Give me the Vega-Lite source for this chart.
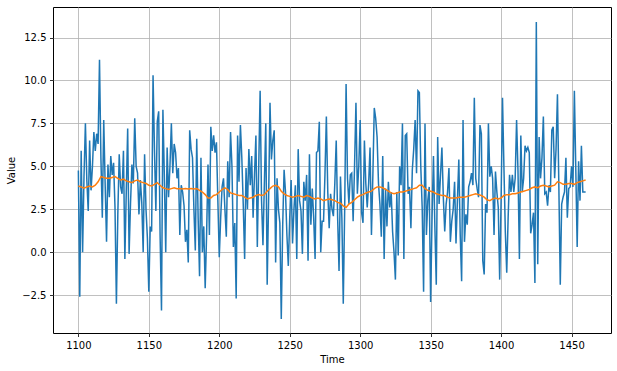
{
  "$schema": "https://vega.github.io/schema/vega-lite/v6.json",
  "width": 558,
  "height": 326,
  "autosize": {"type": "none"},
  "padding": {"left": 53, "top": 7, "right": 6, "bottom": 38},
  "background": "white",
  "config": {
    "view": {"stroke": "#000000", "strokeWidth": 1},
    "axis": {
      "labelFont": "DejaVu Sans", "labelFontSize": 10, "labelColor": "#000000",
      "titleFont": "DejaVu Sans", "titleFontSize": 10, "titleFontWeight": "normal", "titleColor": "#000000",
      "gridColor": "#b0b0b0", "gridWidth": 0.8, "gridOpacity": 1,
      "tickColor": "#000000", "tickSize": 3.5, "tickWidth": 0.8,
      "domain": false, "labelPadding": 3.5
    }
  },
  "datasets": {
    "series": [
      {"t":1100,"v":4.76},{"t":1101,"v":-2.6},{"t":1102,"v":5.9},{"t":1103,"v":0.0},{"t":1104,"v":4.4},{"t":1105,"v":7.5},{"t":1106,"v":4.2},{"t":1107,"v":2.4},{"t":1108,"v":6.5},{"t":1109,"v":3.6},
      {"t":1110,"v":5.0},{"t":1111,"v":7.0},{"t":1112,"v":5.9},{"t":1113,"v":6.9},{"t":1114,"v":6.3},{"t":1115,"v":11.2},{"t":1116,"v":5.5},{"t":1117,"v":2.0},{"t":1118,"v":7.7},{"t":1119,"v":4.0},
      {"t":1120,"v":0.6},{"t":1121,"v":5.1},{"t":1122,"v":3.2},{"t":1123,"v":5.6},{"t":1124,"v":4.5},{"t":1125,"v":5.2},{"t":1126,"v":2.6},{"t":1127,"v":-3.0},{"t":1128,"v":2.2},{"t":1129,"v":5.7},
      {"t":1130,"v":3.8},{"t":1131,"v":3.4},{"t":1132,"v":5.9},{"t":1133,"v":-0.4},{"t":1134,"v":3.5},{"t":1135,"v":7.2},{"t":1136,"v":-0.1},{"t":1137,"v":2.8},{"t":1138,"v":5.1},{"t":1139,"v":4.0},
      {"t":1140,"v":7.8},{"t":1141,"v":5.0},{"t":1142,"v":4.6},{"t":1143,"v":2.2},{"t":1144,"v":4.2},{"t":1145,"v":2.9},{"t":1146,"v":0.0},{"t":1147,"v":5.7},{"t":1148,"v":2.5},{"t":1149,"v":0.8},
      {"t":1150,"v":-2.3},{"t":1151,"v":1.5},{"t":1152,"v":1.2},{"t":1153,"v":10.3},{"t":1154,"v":6.0},{"t":1155,"v":2.4},{"t":1156,"v":7.6},{"t":1157,"v":8.2},{"t":1158,"v":1.0},{"t":1159,"v":-3.4},
      {"t":1160,"v":8.3},{"t":1161,"v":4.5},{"t":1162,"v":0.0},{"t":1163,"v":6.1},{"t":1164,"v":3.2},{"t":1165,"v":5.0},{"t":1166,"v":7.5},{"t":1167,"v":4.6},{"t":1168,"v":6.3},{"t":1169,"v":5.8},
      {"t":1170,"v":4.3},{"t":1171,"v":4.9},{"t":1172,"v":1.0},{"t":1173,"v":3.9},{"t":1174,"v":3.5},{"t":1175,"v":2.7},{"t":1176,"v":0.6},{"t":1177,"v":1.3},{"t":1178,"v":-0.6},{"t":1179,"v":7.1},
      {"t":1180,"v":6.0},{"t":1181,"v":5.5},{"t":1182,"v":2.5},{"t":1183,"v":0.1},{"t":1184,"v":6.6},{"t":1185,"v":2.0},{"t":1186,"v":-1.4},{"t":1187,"v":5.5},{"t":1188,"v":0.0},{"t":1189,"v":1.5},
      {"t":1190,"v":-2.1},{"t":1191,"v":1.0},{"t":1192,"v":5.1},{"t":1193,"v":1.0},{"t":1194,"v":7.3},{"t":1195,"v":5.9},{"t":1196,"v":6.8},{"t":1197,"v":5.8},{"t":1198,"v":6.4},{"t":1199,"v":3.0},
      {"t":1200,"v":-0.3},{"t":1201,"v":2.0},{"t":1202,"v":3.8},{"t":1203,"v":4.3},{"t":1204,"v":2.5},{"t":1205,"v":0.9},{"t":1206,"v":5.3},{"t":1207,"v":3.2},{"t":1208,"v":7.0},{"t":1209,"v":5.0},
      {"t":1210,"v":0.3},{"t":1211,"v":1.7},{"t":1212,"v":-2.7},{"t":1213,"v":6.8},{"t":1214,"v":4.1},{"t":1215,"v":7.4},{"t":1216,"v":5.5},{"t":1217,"v":2.8},{"t":1218,"v":-0.4},{"t":1219,"v":4.9},
      {"t":1220,"v":2.5},{"t":1221,"v":6.0},{"t":1222,"v":3.9},{"t":1223,"v":5.6},{"t":1224,"v":2.0},{"t":1225,"v":4.5},{"t":1226,"v":6.8},{"t":1227,"v":0.3},{"t":1228,"v":5.0},{"t":1229,"v":9.4},
      {"t":1230,"v":3.0},{"t":1231,"v":0.4},{"t":1232,"v":4.0},{"t":1233,"v":7.5},{"t":1234,"v":-1.9},{"t":1235,"v":3.0},{"t":1236,"v":8.7},{"t":1237,"v":5.4},{"t":1238,"v":6.5},{"t":1239,"v":7.1},
      {"t":1240,"v":-0.6},{"t":1241,"v":4.3},{"t":1242,"v":2.5},{"t":1243,"v":1.7},{"t":1244,"v":-3.9},{"t":1245,"v":1.5},{"t":1246,"v":4.8},{"t":1247,"v":3.5},{"t":1248,"v":1.0},{"t":1249,"v":-0.8},
      {"t":1250,"v":2.0},{"t":1251,"v":4.2},{"t":1252,"v":0.5},{"t":1253,"v":2.5},{"t":1254,"v":3.9},{"t":1255,"v":-0.4},{"t":1256,"v":6.0},{"t":1257,"v":3.0},{"t":1258,"v":2.4},{"t":1259,"v":-0.1},
      {"t":1260,"v":4.1},{"t":1261,"v":3.0},{"t":1262,"v":4.5},{"t":1263,"v":-0.5},{"t":1264,"v":5.7},{"t":1265,"v":1.6},{"t":1266,"v":3.7},{"t":1267,"v":2.0},{"t":1268,"v":-0.4},{"t":1269,"v":5.8},
      {"t":1270,"v":5.9},{"t":1271,"v":7.6},{"t":1272,"v":0.0},{"t":1273,"v":1.8},{"t":1274,"v":1.8},{"t":1275,"v":4.5},{"t":1276,"v":7.9},{"t":1277,"v":3.5},{"t":1278,"v":1.4},{"t":1279,"v":3.4},
      {"t":1280,"v":2.5},{"t":1281,"v":2.1},{"t":1282,"v":4.0},{"t":1283,"v":6.5},{"t":1284,"v":2.0},{"t":1285,"v":-1.1},{"t":1286,"v":4.4},{"t":1287,"v":2.0},{"t":1288,"v":-3.0},{"t":1289,"v":2.5},
      {"t":1290,"v":9.8},{"t":1291,"v":4.3},{"t":1292,"v":2.8},{"t":1293,"v":4.5},{"t":1294,"v":4.6},{"t":1295,"v":1.8},{"t":1296,"v":5.0},{"t":1297,"v":8.7},{"t":1298,"v":3.4},{"t":1299,"v":5.0},
      {"t":1300,"v":7.7},{"t":1301,"v":2.3},{"t":1302,"v":1.7},{"t":1303,"v":6.5},{"t":1304,"v":4.0},{"t":1305,"v":2.6},{"t":1306,"v":4.0},{"t":1307,"v":6.1},{"t":1308,"v":1.0},{"t":1309,"v":4.5},
      {"t":1310,"v":8.4},{"t":1311,"v":7.8},{"t":1312,"v":6.7},{"t":1313,"v":4.0},{"t":1314,"v":2.8},{"t":1315,"v":0.9},{"t":1316,"v":5.6},{"t":1317,"v":-0.4},{"t":1318,"v":3.7},{"t":1319,"v":1.5},
      {"t":1320,"v":4.1},{"t":1321,"v":2.6},{"t":1322,"v":3.5},{"t":1323,"v":1.2},{"t":1324,"v":0.0},{"t":1325,"v":-1.6},{"t":1326,"v":3.5},{"t":1327,"v":-0.2},{"t":1328,"v":5.0},{"t":1329,"v":3.9},
      {"t":1330,"v":7.5},{"t":1331,"v":-0.4},{"t":1332,"v":6.8},{"t":1333,"v":6.9},{"t":1334,"v":3.4},{"t":1335,"v":3.8},{"t":1336,"v":1.4},{"t":1337,"v":4.8},{"t":1338,"v":6.0},{"t":1339,"v":7.7},
      {"t":1340,"v":4.6},{"t":1341,"v":9.4},{"t":1342,"v":9.3},{"t":1343,"v":5.0},{"t":1344,"v":2.6},{"t":1345,"v":-2.3},{"t":1346,"v":7.5},{"t":1347,"v":1.0},{"t":1348,"v":3.0},{"t":1349,"v":3.8},
      {"t":1350,"v":-2.9},{"t":1351,"v":2.0},{"t":1352,"v":5.6},{"t":1353,"v":1.5},{"t":1354,"v":-1.9},{"t":1355,"v":6.7},{"t":1356,"v":2.8},{"t":1357,"v":4.5},{"t":1358,"v":6.1},{"t":1359,"v":3.2},
      {"t":1360,"v":1.2},{"t":1361,"v":2.8},{"t":1362,"v":3.5},{"t":1363,"v":4.9},{"t":1364,"v":0.6},{"t":1365,"v":1.8},{"t":1366,"v":2.5},{"t":1367,"v":4.1},{"t":1368,"v":0.5},{"t":1369,"v":3.0},
      {"t":1370,"v":5.4},{"t":1371,"v":1.0},{"t":1372,"v":-1.7},{"t":1373,"v":7.7},{"t":1374,"v":0.6},{"t":1375,"v":2.2},{"t":1376,"v":1.6},{"t":1377,"v":3.8},{"t":1378,"v":4.1},{"t":1379,"v":4.6},
      {"t":1380,"v":3.9},{"t":1381,"v":9.0},{"t":1382,"v":4.3},{"t":1383,"v":3.7},{"t":1384,"v":3.2},{"t":1385,"v":7.4},{"t":1386,"v":6.9},{"t":1387,"v":-0.5},{"t":1388,"v":-1.3},{"t":1389,"v":2.8},
      {"t":1390,"v":2.3},{"t":1391,"v":7.5},{"t":1392,"v":4.4},{"t":1393,"v":5.0},{"t":1394,"v":4.3},{"t":1395,"v":1.0},{"t":1396,"v":4.7},{"t":1397,"v":3.5},{"t":1398,"v":2.6},{"t":1399,"v":-1.6},
      {"t":1400,"v":3.0},{"t":1401,"v":9.0},{"t":1402,"v":5.0},{"t":1403,"v":1.2},{"t":1404,"v":-1.2},{"t":1405,"v":2.0},{"t":1406,"v":4.5},{"t":1407,"v":3.5},{"t":1408,"v":4.5},{"t":1409,"v":3.5},
      {"t":1410,"v":4.3},{"t":1411,"v":7.7},{"t":1412,"v":4.7},{"t":1413,"v":-0.4},{"t":1414,"v":6.8},{"t":1415,"v":3.5},{"t":1416,"v":4.3},{"t":1417,"v":6.2},{"t":1418,"v":5.9},{"t":1419,"v":6.1},
      {"t":1420,"v":5.8},{"t":1421,"v":1.1},{"t":1422,"v":1.6},{"t":1423,"v":2.3},{"t":1424,"v":-1.8},{"t":1425,"v":13.4},{"t":1426,"v":-0.7},{"t":1427,"v":6.7},{"t":1428,"v":4.3},{"t":1429,"v":5.5},
      {"t":1430,"v":7.9},{"t":1431,"v":3.4},{"t":1432,"v":3.5},{"t":1433,"v":2.7},{"t":1434,"v":3.9},{"t":1435,"v":3.5},{"t":1436,"v":7.1},{"t":1437,"v":7.3},{"t":1438,"v":4.3},{"t":1439,"v":6.0},
      {"t":1440,"v":9.2},{"t":1441,"v":3.8},{"t":1442,"v":-1.9},{"t":1443,"v":2.8},{"t":1444,"v":3.2},{"t":1445,"v":3.5},{"t":1446,"v":5.5},{"t":1447,"v":2.0},{"t":1448,"v":3.7},{"t":1449,"v":3.8},
      {"t":1450,"v":5.0},{"t":1451,"v":3.8},{"t":1452,"v":9.4},{"t":1453,"v":4.9},{"t":1454,"v":0.3},{"t":1455,"v":5.3},{"t":1456,"v":3.0},{"t":1457,"v":6.2},{"t":1458,"v":3.5},{"t":1459,"v":3.5},
      {"t":1460,"v":3.5}
    ],
    "ma": [
      {"t":1100,"m":3.85},{"t":1102,"m":3.8},{"t":1104,"m":3.72},{"t":1106,"m":3.8},{"t":1108,"m":3.85},{"t":1110,"m":3.8},{"t":1112,"m":3.9},{"t":1114,"m":4.1},{"t":1116,"m":4.4},{"t":1118,"m":4.35},
      {"t":1120,"m":4.3},{"t":1122,"m":4.3},{"t":1124,"m":4.35},{"t":1126,"m":4.4},{"t":1128,"m":4.3},{"t":1130,"m":4.2},{"t":1132,"m":4.25},{"t":1134,"m":4.15},{"t":1136,"m":4.1},{"t":1138,"m":4.05},
      {"t":1140,"m":4.15},{"t":1142,"m":4.2},{"t":1144,"m":4.1},{"t":1146,"m":4.05},{"t":1148,"m":4.0},{"t":1150,"m":3.9},{"t":1152,"m":3.85},{"t":1154,"m":3.95},{"t":1156,"m":4.05},{"t":1158,"m":3.9},
      {"t":1160,"m":3.75},{"t":1162,"m":3.7},{"t":1164,"m":3.65},{"t":1166,"m":3.7},{"t":1168,"m":3.75},{"t":1170,"m":3.7},{"t":1172,"m":3.7},{"t":1174,"m":3.68},{"t":1176,"m":3.7},{"t":1178,"m":3.68},
      {"t":1180,"m":3.7},{"t":1182,"m":3.68},{"t":1184,"m":3.7},{"t":1186,"m":3.6},{"t":1188,"m":3.5},{"t":1190,"m":3.35},{"t":1192,"m":3.15},{"t":1194,"m":3.15},{"t":1196,"m":3.3},{"t":1198,"m":3.35},
      {"t":1200,"m":3.5},{"t":1202,"m":3.65},{"t":1204,"m":3.75},{"t":1206,"m":3.65},{"t":1208,"m":3.45},{"t":1210,"m":3.4},{"t":1212,"m":3.35},{"t":1214,"m":3.3},{"t":1216,"m":3.3},{"t":1218,"m":3.2},
      {"t":1220,"m":3.1},{"t":1222,"m":3.15},{"t":1224,"m":3.2},{"t":1226,"m":3.3},{"t":1228,"m":3.35},{"t":1230,"m":3.3},{"t":1232,"m":3.35},{"t":1234,"m":3.55},{"t":1236,"m":3.7},{"t":1238,"m":3.85},
      {"t":1240,"m":3.9},{"t":1242,"m":3.8},{"t":1244,"m":3.55},{"t":1246,"m":3.4},{"t":1248,"m":3.3},{"t":1250,"m":3.25},{"t":1252,"m":3.2},{"t":1254,"m":3.25},{"t":1256,"m":3.3},{"t":1258,"m":3.25},
      {"t":1260,"m":3.2},{"t":1262,"m":3.3},{"t":1264,"m":3.25},{"t":1266,"m":3.15},{"t":1268,"m":3.1},{"t":1270,"m":3.15},{"t":1272,"m":3.1},{"t":1274,"m":3.0},{"t":1276,"m":3.05},{"t":1278,"m":3.1},
      {"t":1280,"m":3.05},{"t":1282,"m":3.0},{"t":1284,"m":2.9},{"t":1286,"m":2.85},{"t":1288,"m":2.7},{"t":1290,"m":2.6},{"t":1292,"m":2.8},{"t":1294,"m":2.9},{"t":1296,"m":3.05},{"t":1298,"m":3.2},
      {"t":1300,"m":3.3},{"t":1302,"m":3.35},{"t":1304,"m":3.45},{"t":1306,"m":3.5},{"t":1308,"m":3.55},{"t":1310,"m":3.7},{"t":1312,"m":3.8},{"t":1314,"m":3.8},{"t":1316,"m":3.75},{"t":1318,"m":3.65},
      {"t":1320,"m":3.55},{"t":1322,"m":3.45},{"t":1324,"m":3.4},{"t":1326,"m":3.45},{"t":1328,"m":3.5},{"t":1330,"m":3.5},{"t":1332,"m":3.55},{"t":1334,"m":3.6},{"t":1336,"m":3.65},{"t":1338,"m":3.7},
      {"t":1340,"m":3.75},{"t":1342,"m":3.9},{"t":1344,"m":3.9},{"t":1346,"m":3.7},{"t":1348,"m":3.6},{"t":1350,"m":3.55},{"t":1352,"m":3.5},{"t":1354,"m":3.4},{"t":1356,"m":3.35},{"t":1358,"m":3.3},
      {"t":1360,"m":3.3},{"t":1362,"m":3.2},{"t":1364,"m":3.15},{"t":1366,"m":3.15},{"t":1368,"m":3.15},{"t":1370,"m":3.2},{"t":1372,"m":3.2},{"t":1374,"m":3.2},{"t":1376,"m":3.25},{"t":1378,"m":3.3},
      {"t":1380,"m":3.35},{"t":1382,"m":3.4},{"t":1384,"m":3.35},{"t":1386,"m":3.3},{"t":1388,"m":3.2},{"t":1390,"m":3.05},{"t":1392,"m":3.0},{"t":1394,"m":3.1},{"t":1396,"m":3.15},{"t":1398,"m":3.1},
      {"t":1400,"m":3.15},{"t":1402,"m":3.3},{"t":1404,"m":3.35},{"t":1406,"m":3.35},{"t":1408,"m":3.4},{"t":1410,"m":3.4},{"t":1412,"m":3.45},{"t":1414,"m":3.5},{"t":1416,"m":3.55},{"t":1418,"m":3.6},
      {"t":1420,"m":3.65},{"t":1422,"m":3.75},{"t":1424,"m":3.8},{"t":1426,"m":3.75},{"t":1428,"m":3.85},{"t":1430,"m":3.9},{"t":1432,"m":3.85},{"t":1434,"m":3.8},{"t":1436,"m":3.85},{"t":1438,"m":3.9},
      {"t":1440,"m":4.1},{"t":1442,"m":4.05},{"t":1444,"m":3.95},{"t":1446,"m":3.95},{"t":1448,"m":4.0},{"t":1450,"m":4.0},{"t":1452,"m":3.95},{"t":1454,"m":4.05},{"t":1456,"m":4.1},{"t":1458,"m":4.15},
      {"t":1460,"m":4.2}
    ]
  },
  "encoding": {
    "x": {
      "field": "t", "type": "quantitative",
      "scale": {"domain": [1082, 1478], "nice": false, "zero": false},
      "axis": {"values": [1100, 1150, 1200, 1250, 1300, 1350, 1400, 1450], "format": "d", "title": "Time", "titlePadding": 4}
    }
  },
  "layer": [
    {
      "data": {"name": "series"},
      "mark": {"type": "line", "color": "#1f77b4", "strokeWidth": 1.5, "clip": true},
      "encoding": {
        "y": {
          "field": "v", "type": "quantitative",
          "scale": {"domain": [-4.71, 14.28], "nice": false, "zero": false},
          "axis": {"values": [-2.5, 0, 2.5, 5, 7.5, 10, 12.5], "format": ".1f", "title": "Value", "titlePadding": 5}
        }
      }
    },
    {
      "data": {"name": "ma"},
      "mark": {"type": "line", "color": "#ff7f0e", "strokeWidth": 1.5, "clip": true},
      "encoding": {
        "y": {"field": "m", "type": "quantitative"}
      }
    }
  ]
}
